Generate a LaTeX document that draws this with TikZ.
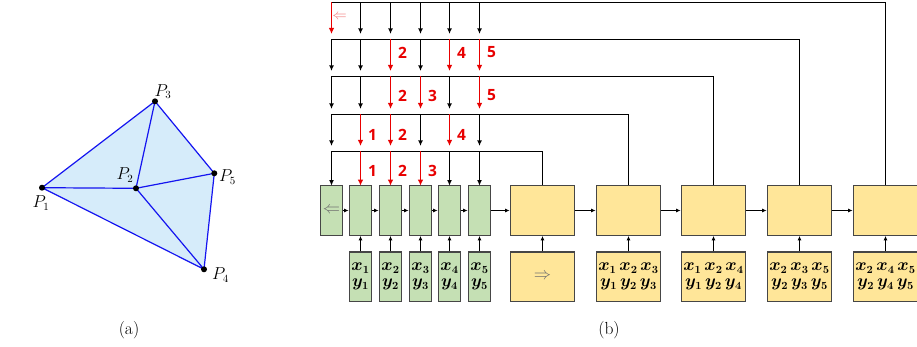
\documentclass[tikz,border=0pt]{standalone}
\usepackage{amsmath}
\usepackage{bm}
\usepackage{fontspec}
\newfontfamily\numfont{Open Sans}
\usetikzlibrary{arrows.meta,calc}

\definecolor{trifill}{RGB}{214,236,250}
\definecolor{triedge}{RGB}{20,20,240}
\definecolor{gfill}{RGB}{197,224,180}
\definecolor{yfill}{RGB}{255,230,153}
\definecolor{boxline}{RGB}{70,70,70}
\definecolor{hot}{RGB}{232,0,0}
\definecolor{softhot}{RGB}{240,120,120}
\definecolor{glyph}{RGB}{110,110,110}

\tikzset{
  pointlabel/.style={font=\fontsize{16}{18}\selectfont, inner sep=0pt},
  caption/.style={font=\fontsize{17.5}{20}\selectfont, inner sep=0pt},
  cell/.style={draw=boxline, line width=1.2pt, inner sep=0pt, align=center,
               minimum height=49.6pt, font=\fontsize{16}{16}\selectfont},
  gcell/.style={cell, fill=gfill, minimum width=22.6pt},
  ycell/.style={cell, fill=yfill, minimum width=64.5pt},
  link/.style={draw=black, line width=1.2pt, -{Latex[length=4.5pt,width=4pt]}},
  bus/.style={draw=black, line width=1.5pt},
  feed/.style={draw=black, line width=1.5pt, -{Latex[length=5.5pt,width=4.8pt]}},
  hotfeed/.style={draw=hot, line width=1.8pt, -{Latex[length=6pt,width=5.5pt]}},
  tag/.style={text=hot, font=\numfont\bfseries\fontsize{15.5}{17}\selectfont,
              inner sep=0pt, anchor=west},
  arrowglyph/.style={text=glyph, font=\fontsize{15}{17}\selectfont},
}

\begin{document}
\begin{tikzpicture}[x=1pt,y=-1pt]
\useasboundingbox (0,0) rectangle (917,347);

% ---------- (a) triangulated point set ----------
\coordinate (P1) at (42,187.7);
\coordinate (P2) at (136,188.3);
\coordinate (P3) at (155,101.3);
\coordinate (P4) at (204,269.3);
\coordinate (P5) at (214.3,173.3);
\fill[trifill] (P1) -- (P3) -- (P5) -- (P4) -- cycle;
\draw[triedge, line width=1.2pt, line join=round]
  (P1) -- (P3) -- (P5) -- (P4) -- cycle
  (P1) -- (P2) -- (P3) (P2) -- (P5) (P2) -- (P4);
\foreach \p in {P1,P2,P3,P4,P5} \fill (\p) circle (3);
\node[pointlabel] (lP1) at (41,203) {$P_1$};
\node[pointlabel] (lP2) at (125,175) {$P_2$};
\node[pointlabel] (lP3) at (163,91.5) {$P_3$};
\node[pointlabel] (lP4) at (220.5,275) {$P_4$};
\node[pointlabel] (lP5) at (227.5,177) {$P_5$};
\node[caption] (capa) at (129,330) {(a)};

% ---------- (b) recurrent chain ----------
% green cells: start cell and one cell per input point
\node[gcell] (g0) at (331.5,210.5) {\textcolor{glyph}{$\Leftarrow$}};
\foreach \k/\x in {1/360.5,2/390.5,3/420.5,4/449.5,5/479.5} {
  \node[gcell] (g\k) at (\x,210.5) {};
  \node[gcell] (gi\k) at (\x,276.7) {$\bm{x_{\k}}$\\$\bm{y_{\k}}$};
}

% yellow cells: decoder steps
\foreach \k/\x in {1/542.5,2/628.5,3/713.5,4/799.5,5/885.5}
  \node[ycell] (y\k) at (\x,210.5) {};
\node[ycell] (yi1) at (y1 |- 0,276.7) {\textcolor{glyph}{$\Rightarrow$}};
\node[ycell] (yi2) at (y2 |- 0,276.7)
  {$\bm{x_1}\,\bm{x_2}\,\bm{x_3}$\\$\bm{y_1}\,\bm{y_2}\,\bm{y_3}$};
\node[ycell] (yi3) at (y3 |- 0,276.7)
  {$\bm{x_1}\,\bm{x_2}\,\bm{x_4}$\\$\bm{y_1}\,\bm{y_2}\,\bm{y_4}$};
\node[ycell] (yi4) at (y4 |- 0,276.7)
  {$\bm{x_2}\,\bm{x_3}\,\bm{x_5}$\\$\bm{y_2}\,\bm{y_3}\,\bm{y_5}$};
\node[ycell] (yi5) at (y5 |- 0,276.7)
  {$\bm{x_2}\,\bm{x_4}\,\bm{x_5}$\\$\bm{y_2}\,\bm{y_4}\,\bm{y_5}$};

% chain links and inputs
\foreach \a/\b in {g0/g1,g1/g2,g2/g3,g3/g4,g4/g5,g5/y1,y1/y2,y2/y3,y3/y4,y4/y5}
  \draw[link] (\a.east) -- (\b.west);
\foreach \k in {1,...,5} {
  \draw[link] (gi\k.north) -- (g\k.south);
  \draw[link] (yi\k.north) -- (y\k.south);
}

% bus levels: level \l is fed by decoder cell 6-\l
\foreach \l/\y in {1/2.5,2/39.5,3/76.5,4/114.5,5/151.5} \coordinate (L\l) at (0,\y);
\coordinate (L6) at (0,191.2);
\foreach \l [evaluate=\l as \src using int(6-\l)] in {1,...,5}
  \draw[bus] (y\src.north) |- (g0.north |- L\l);

% drops from each level into the six columns
\foreach \l/\hot [evaluate=\l as \nx using int(\l+1)] in
    {1/{0},2/{2,4,5},3/{2,3,5},4/{1,2,4},5/{1,2,3}} {
  \foreach \c in {0,...,5} {
    \xdef\dropstyle{feed}
    \foreach \h in \hot {\ifnum\h=\c\relax\xdef\dropstyle{hotfeed}\fi}
    \draw[\dropstyle] (g\c.north |- L\l) -- ($(g\c.north |- L\nx)+(0,-5.5)$);
  }
}

% indices of the selected points
\node[arrowglyph, text=softhot, inner sep=0pt] (back) at (339.5,17.3) {$\Leftarrow$};
\foreach \l/\c/\dy in {2/2/13,2/4/13,2/5/13,3/2/19,3/3/19,3/5/19,
                       4/1/20,4/2/20,4/4/20,5/1/19,5/2/19,5/3/19}
  \node[tag] (t\l\c) at ($(g\c.north |- L\l)+(7.5,\dy)$) {\c};

\node[caption] (capb) at (609,330) {(b)};
\end{tikzpicture}
\end{document}
